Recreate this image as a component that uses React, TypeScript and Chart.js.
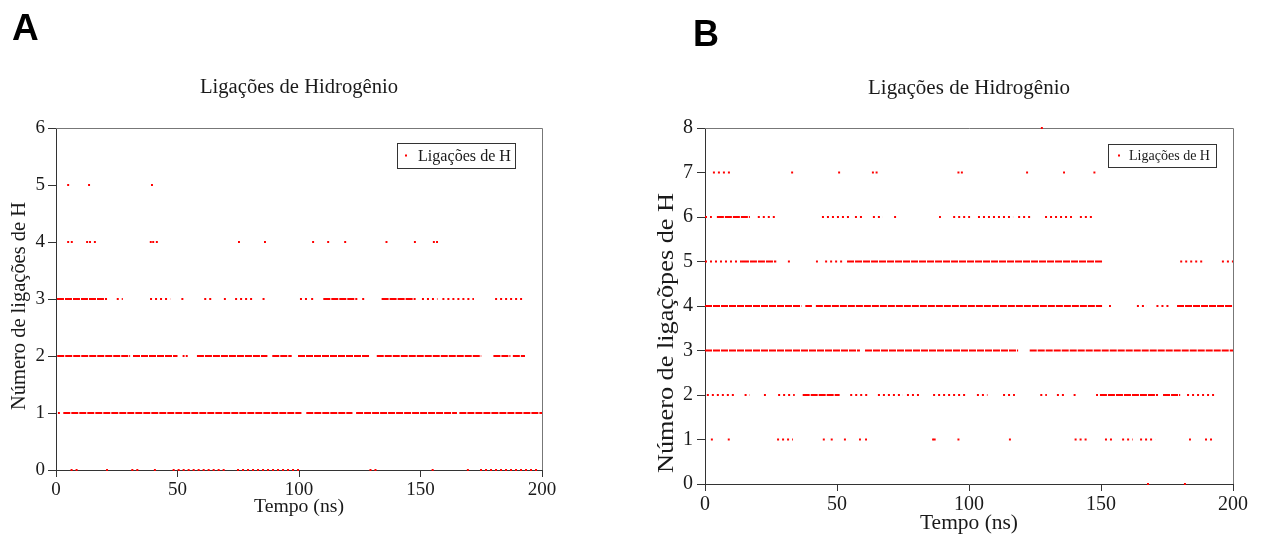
import React, { useEffect, useRef } from "react";
import { Chart, registerables } from "chart.js";

Chart.register(...registerables);

// ---------- data ----------
const timeTicksNs = [0, 50, 100, 150, 200];
const hbondTicksA = [0, 1, 2, 3, 4, 5, 6];
const hbondTicksB = [0, 1, 2, 3, 4, 5, 6, 7, 8];

const chartTitle = "Ligações de Hidrogênio";
const xAxisTitle = "Tempo (ns)";
const yAxisTitleA = "Número de ligações de H";
const yAxisTitleB = "Número de ligaçõpes de H";
const seriesLabel = "Ligações de H";

// [number of H-bonds, start (ns), end (ns)] : continuous runs of frames
const denseRunsA: [number, number, number][] = [
  [1, 3, 101], [1, 103, 122], [1, 123.5, 165], [1, 166, 200],
  [2, 0.5, 30.5], [2, 31.7, 50], [2, 58, 87], [2, 89, 97], [2, 99.6, 129], [2, 132, 175], [2, 180, 187], [2, 188, 193],
  [3, 0.4, 21], [3, 110, 124], [3, 134, 148],
];
// [number of H-bonds, start (ns), end (ns)] : scattered frames
const sparseRunsA: [number, number, number][] = [
  [0, 6, 9], [0, 31, 35], [0, 48, 70], [0, 74.5, 100], [0, 129, 133], [0, 174.5, 199],
  [3, 25, 27.5], [3, 38.7, 47], [3, 61, 65], [3, 73.7, 81], [3, 85, 87], [3, 100.4, 103.7], [3, 105, 107],
  [3, 126, 128], [3, 150.6, 157], [3, 159, 172], [3, 180.7, 191.8],
];
// [number of H-bonds, time (ns)] : isolated frames
const isolatedFramesA: [number, number][] = [
  [0, 21], [0, 40.7], [0, 155], [0, 169.5],
  [1, 1.2],
  [2, 52.5], [2, 53.8],
  [3, 52], [3, 69.5],
  [4, 5], [4, 6.5], [4, 12.8], [4, 14], [4, 16], [4, 39], [4, 40], [4, 41.5], [4, 75.3], [4, 86],
  [4, 105.8], [4, 112], [4, 119], [4, 136], [4, 147.7], [4, 155.5], [4, 156.8],
  [5, 5], [5, 13.6], [5, 39.5],
];

const denseRunsB: [number, number, number][] = [
  [2, 37, 51], [2, 149.6, 171.6], [2, 173.5, 180],
  [3, 0, 58.7], [3, 60.6, 118.6], [3, 123, 200],
  [4, 0, 36.5], [4, 38, 40.5], [4, 42, 150.4], [4, 178.8, 200],
  [5, 14, 27], [5, 53.8, 150.4],
  [6, 4.5, 17],
];
const sparseRunsB: [number, number, number][] = [
  [1, 27.3, 33.3], [1, 140, 144.6], [1, 151.5, 154.5], [1, 158, 162], [1, 164.8, 170.5], [1, 189.4, 192.4],
  [2, 0.7, 11.4], [2, 15, 17], [2, 27.7, 34], [2, 55, 61.7], [2, 65.5, 75], [2, 76.5, 81.4], [2, 86.4, 99.6],
  [2, 103, 107], [2, 112.9, 117.4], [2, 127, 129.5], [2, 133.3, 136.4], [2, 182.6, 193],
  [4, 163.6, 167.4], [4, 171, 176],
  [5, 0, 14], [5, 31.4, 33], [5, 45.5, 52], [5, 180, 188.6], [5, 195.8, 200],
  [6, 0, 2.6], [6, 20, 26.5], [6, 44.3, 55], [6, 56.8, 60], [6, 63.6, 67.4], [6, 94, 100.4],
  [6, 103.4, 116.7], [6, 118.6, 124], [6, 128.8, 139], [6, 142, 147],
  [7, 3, 10],
];
const isolatedFramesB: [number, number][] = [
  [0, 167.8], [0, 181.8],
  [1, 2.6], [1, 9], [1, 45], [1, 48], [1, 53], [1, 58.7], [1, 61], [1, 86.4], [1, 87], [1, 96], [1, 115.5], [1, 183.7],
  [2, 22.7], [2, 140], [2, 148.5],
  [4, 153.4],
  [5, 42.4],
  [6, 72], [6, 89],
  [7, 33], [7, 50.8], [7, 63.6], [7, 65], [7, 96], [7, 97.3], [7, 122], [7, 136], [7, 147.5],
  [8, 127.6],
];

// ---------- helpers ----------
const SERIF = "'Liberation Serif', 'Times New Roman', serif";
const SANS = "'Liberation Sans', Arial, sans-serif";
const RED = "#ff0000";

function runsToData(runs: [number, number, number][]) {
  const out: { x: number; y: number | null }[] = [];
  runs.forEach(([n, s, e]) => {
    out.push({ x: s, y: n }, { x: e, y: n }, { x: e, y: null });
  });
  return out;
}

function drawFitted(
  ctx: CanvasRenderingContext2D,
  text: string,
  cx: number,
  cy: number,
  size: number,
  length: number,
  rotate: boolean,
  align: CanvasTextAlign = "center"
) {
  ctx.save();
  ctx.font = `${size}px ${SERIF}`;
  const w = ctx.measureText(text).width;
  ctx.translate(cx, cy);
  if (rotate) ctx.rotate(-Math.PI / 2);
  ctx.scale(length / w, 1);
  ctx.textAlign = align;
  ctx.textBaseline = "middle";
  ctx.fillStyle = "#1a1a1a";
  ctx.fillText(text, 0, 0);
  ctx.restore();
}

const decorPlugin = {
  id: "decor",
  beforeDatasetsDraw(chart: any) {
    const { ctx, chartArea: a } = chart;
    ctx.save();
    ctx.strokeStyle = "#777";
    ctx.lineWidth = 1;
    ctx.beginPath();
    ctx.moveTo(a.left, a.top + 0.5);
    ctx.lineTo(a.right + 0.5, a.top + 0.5);
    ctx.lineTo(a.right + 0.5, a.bottom);
    ctx.stroke();
    ctx.restore();
  },
  afterDraw(chart: any, _args: any, o: any) {
    const ctx: CanvasRenderingContext2D = chart.ctx;
    // panel letter
    ctx.save();
    ctx.font = `bold ${o.letterSize}px ${SANS}`;
    ctx.fillStyle = "#000";
    ctx.textAlign = "left";
    ctx.textBaseline = "alphabetic";
    ctx.fillText(o.letter, o.letterX, o.letterY);
    ctx.restore();
    // titles
    drawFitted(ctx, chartTitle, o.titleX, o.titleY, o.titleSize, o.titleLen, false);
    drawFitted(ctx, xAxisTitle, o.xtX, o.xtY, o.xtSize, o.xtLen, false);
    drawFitted(ctx, o.yTitle, o.ytX, o.ytY, o.ytSize, o.ytLen, true);
    // legend
    const L = o.legend;
    ctx.save();
    ctx.fillStyle = "#fff";
    ctx.fillRect(L.x, L.y, L.w, L.h);
    ctx.strokeStyle = "#333";
    ctx.lineWidth = 1;
    ctx.strokeRect(L.x + 0.5, L.y + 0.5, L.w, L.h);
    ctx.fillStyle = RED;
    ctx.fillRect(L.dotX - 1, L.y + L.h / 2 - 1, 2, 2);
    ctx.restore();
    drawFitted(ctx, seriesLabel, L.textX, L.y + L.h / 2 + 1, L.size, L.len, false, "left");
  },
};

function buildConfig(p: any) {
  const dense = runsToData(p.dense);
  const sparse = runsToData(p.sparse);
  const pts = p.points.map(([n, t]: [number, number]) => ({ x: t, y: n }));
  return {
    type: "scatter",
    data: {
      datasets: [
        {
          label: seriesLabel,
          data: dense,
          showLine: true,
          spanGaps: false,
          borderColor: RED,
          borderWidth: 2,
          borderDash: [7, 1],
          pointRadius: 0,
          clip: false,
        },
        {
          label: seriesLabel + " (esparsas)",
          data: sparse,
          showLine: true,
          spanGaps: false,
          borderColor: RED,
          borderWidth: 1.8,
          borderDash: [2, 3],
          pointRadius: 0,
          clip: false,
        },
        {
          label: seriesLabel + " (isoladas)",
          data: pts,
          showLine: false,
          pointStyle: "rect",
          pointRadius: 1.4,
          pointBorderWidth: 0,
          backgroundColor: RED,
          borderColor: RED,
          clip: false,
        },
      ],
    },
    options: {
      responsive: false,
      animation: false,
      devicePixelRatio: 1,
      events: [],
      layout: { padding: { left: 0, top: p.top, right: p.padRight, bottom: 0 } },
      plugins: {
        legend: { display: false },
        title: { display: false },
        tooltip: { enabled: false },
        decor: p.decor,
      },
      scales: {
        x: {
          type: "linear",
          min: 0,
          max: 200,
          afterBuildTicks: (s: any) => {
            s.ticks = timeTicksNs.map((v) => ({ value: v }));
          },
          afterFit: (s: any) => {
            s.height = p.xAxisH;
            s.paddingLeft = 0;
            s.paddingRight = 0;
          },
          grid: { drawOnChartArea: false, tickLength: 7, tickColor: "#333", color: "#333" },
          border: { color: "#333", width: 1 },
          ticks: {
            font: { family: SERIF, size: p.tickSize },
            color: "#1a1a1a",
            padding: 2,
            maxRotation: 0,
            autoSkip: false,
          },
        },
        y: {
          type: "linear",
          min: 0,
          max: p.yTicks[p.yTicks.length - 1],
          afterBuildTicks: (s: any) => {
            s.ticks = p.yTicks.map((v: number) => ({ value: v }));
          },
          afterFit: (s: any) => {
            s.width = p.yAxisW;
            s.paddingTop = 0;
            s.paddingBottom = 0;
          },
          grid: { drawOnChartArea: false, tickLength: 8, tickColor: "#333", color: "#333" },
          border: { color: "#333", width: 1 },
          ticks: {
            font: { family: SERIF, size: p.tickSize },
            color: "#1a1a1a",
            padding: p.yPad,
            autoSkip: false,
          },
        },
      },
    },
    plugins: [decorPlugin],
  };
}

const panelA = {
  left: 0,
  width: 620,
  top: 128,
  padRight: 78,
  xAxisH: 66,
  yAxisW: 56,
  yPad: 3,
  tickSize: 19,
  yTicks: hbondTicksA,
  dense: denseRunsA,
  sparse: sparseRunsA,
  points: isolatedFramesA,
  decor: {
    letter: "A", letterX: 12, letterY: 40, letterSize: 37,
    titleX: 299, titleY: 88, titleSize: 20, titleLen: 198,
    xtX: 299, xtY: 507, xtSize: 19, xtLen: 90,
    yTitle: yAxisTitleA, ytX: 20, ytY: 306, ytSize: 20, ytLen: 208,
    legend: { x: 397, y: 143, w: 118, h: 25, dotX: 406, textX: 418, size: 16, len: 93 },
  },
};

const panelB = {
  left: 630,
  width: 635,
  top: 128,
  padRight: 32,
  xAxisH: 52,
  yAxisW: 75,
  yPad: 4,
  tickSize: 20,
  yTicks: hbondTicksB,
  dense: denseRunsB,
  sparse: sparseRunsB,
  points: isolatedFramesB,
  decor: {
    letter: "B", letterX: 63, letterY: 46, letterSize: 36,
    titleX: 339, titleY: 88, titleSize: 21, titleLen: 202,
    xtX: 339, xtY: 523, xtSize: 21, xtLen: 98,
    yTitle: yAxisTitleB, ytX: 37, ytY: 333, ytSize: 23, ytLen: 280,
    legend: { x: 478, y: 144, w: 108, h: 23, dotX: 489, textX: 499, size: 14, len: 81 },
  },
};

function Panel({ p }: { p: any }) {
  const ref = useRef<HTMLCanvasElement | null>(null);
  useEffect(() => {
    if (!ref.current) return;
    const chart = new Chart(ref.current, buildConfig(p) as any);
    return () => chart.destroy();
  }, [p]);
  return (
    <canvas
      ref={ref}
      width={p.width}
      height={536}
      style={{ position: "absolute", left: p.left, top: 0, width: p.width, height: 536 }}
    />
  );
}

export default function App() {
  return (
    <div style={{ position: "absolute", left: 0, top: 0, width: 1265, height: 536, background: "#fff" }}>
      <Panel p={panelA} />
      <Panel p={panelB} />
    </div>
  );
}
